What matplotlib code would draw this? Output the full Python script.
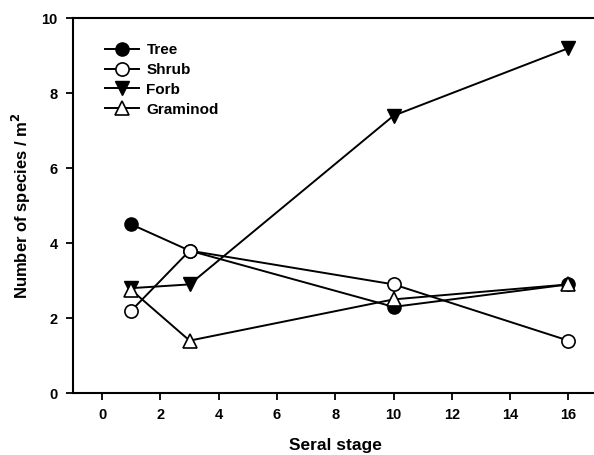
import matplotlib
matplotlib.use("Agg")
import matplotlib.pyplot as plt

stages = [1, 3, 10, 16]
tree = [4.5, 3.8, 2.3, 2.9]
shrub = [2.2, 3.8, 2.9, 1.4]
forb = [2.8, 2.9, 7.4, 9.2]
graminod = [2.75, 1.4, 2.5, 2.9]

plt.rcParams['font.family'] = ['Liberation Sans', 'DejaVu Sans']
plt.rcParams['font.weight'] = 'bold'

fig = plt.figure(figsize=(5.94, 4.55), dpi=100)
ax = fig.add_axes([0.123, 0.136, 0.883, 0.824])

ms = 9.5
lw = 1.4
ax.plot(stages, tree, '-o', color='black', mfc='black', mec='black', ms=ms, lw=lw, label='Tree')
ax.plot(stages, shrub, '-o', color='black', mfc='white', mec='black', ms=ms, mew=1.2, lw=lw, label='Shrub')
ax.plot(stages, forb, '-v', color='black', mfc='black', mec='black', ms=ms, lw=lw, label='Forb')
ax.plot(stages, graminod, '-^', color='black', mfc='white', mec='black', ms=ms, mew=1.2, lw=lw, label='Graminod')

ax.set_xlim(-1, 17)
ax.set_ylim(0, 10)
ax.set_xticks(range(0, 17, 2))
ax.set_yticks(range(0, 11, 2))
ax.tick_params(direction='out', length=5, width=1.3, labelsize=10.5, pad=6)
for lab in ax.get_xticklabels() + ax.get_yticklabels():
    lab.set_fontweight('bold')
for s in ax.spines.values():
    s.set_linewidth(1.5)
ax.spines['right'].set_visible(False)

ax.set_xlabel('Seral stage', fontsize=12.5, fontweight='bold', labelpad=11)
ax.set_ylabel('Number of species / m$^\\mathbf{2}$', fontsize=12, fontweight='bold', labelpad=6)

leg = ax.legend(loc='upper left', bbox_to_anchor=(0.035, 0.97), frameon=False, fontsize=11,
                handlelength=2.2, handletextpad=0.5, labelspacing=0.38)
for t in leg.get_texts():
    t.set_fontweight('bold')

fig.savefig('out.png', dpi=100)
